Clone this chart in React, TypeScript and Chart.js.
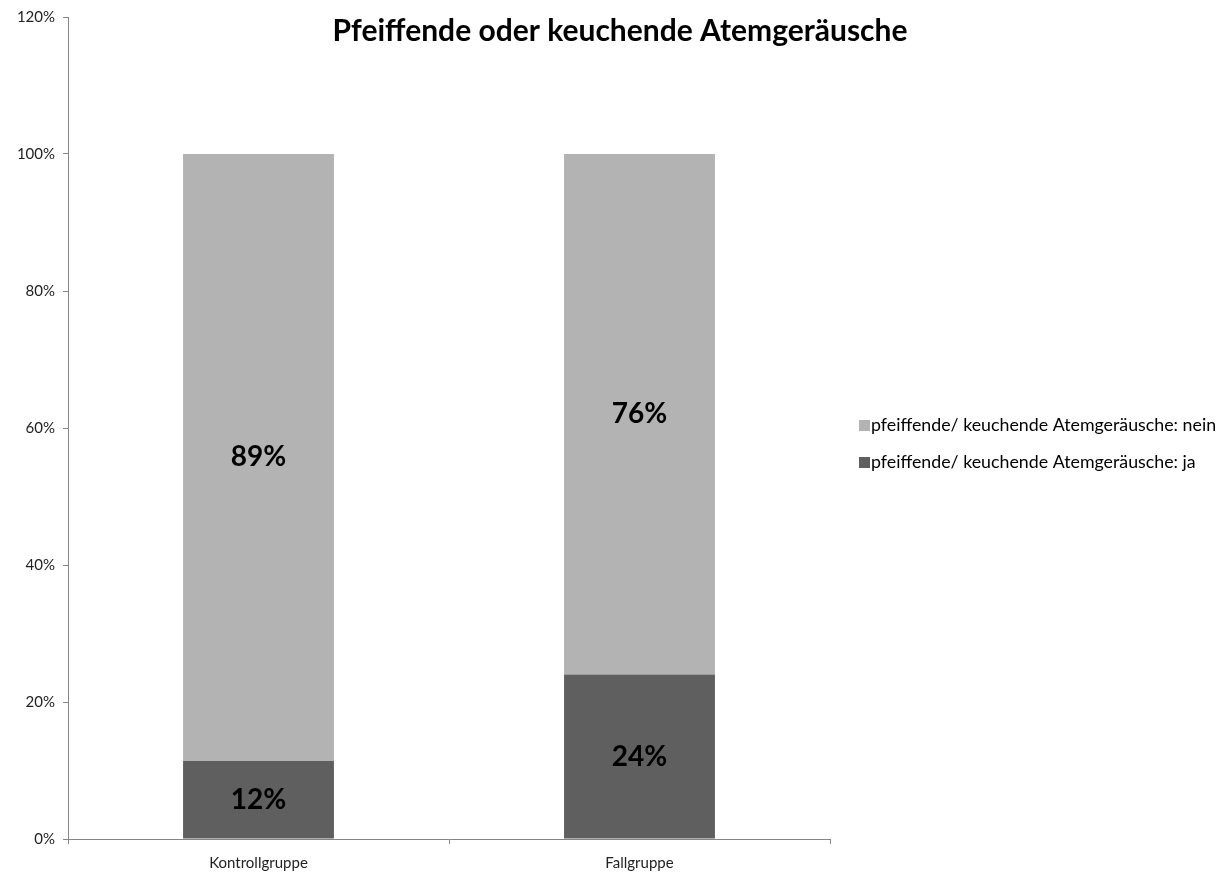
import React, { useEffect, useRef } from "react";
import { Chart, registerables } from "chart.js";

Chart.register(...registerables);

const categories = ["Kontrollgruppe", "Fallgruppe"];
const jaValues = [11.4, 24];
const neinValues = [88.6, 76];
const jaLabels = ["12%", "24%"];
const neinLabels = ["89%", "76%"];
const seriesNames = [
  "pfeiffende/ keuchende Atemgeräusche: ja",
  "pfeiffende/ keuchende Atemgeräusche: nein",
];
const titleText = "Pfeiffende oder keuchende Atemgeräusche";
const FONT = "Lato, 'Open Sans', sans-serif";

export default function App() {
  const ref = useRef<HTMLCanvasElement | null>(null);
  useEffect(() => {
    document.body.style.margin = "0";
    const canvas = ref.current!;
    const labelSets = [jaLabels, neinLabels];
    const overlay = {
      id: "overlay",
      afterDraw(chart: any) {
        const ctx = chart.ctx;
        ctx.save();
        // title
        ctx.fillStyle = "#000";
        ctx.font = `bold 30px ${FONT}`;
        ctx.textAlign = "center";
        ctx.textBaseline = "middle";
        ctx.fillText(titleText, 620, 31);
        // data labels
        ctx.font = `bold 28px ${FONT}`;
        chart.data.datasets.forEach((ds: any, di: number) => {
          const meta = chart.getDatasetMeta(di);
          meta.data.forEach((bar: any, i: number) => {
            const y = (bar.y + bar.base) / 2;
            ctx.fillText(labelSets[di][i], bar.x, y);
          });
        });
        // legend (reverse order)
        ctx.font = `17.8px ${FONT}`;
        ctx.textAlign = "left";
        const items = [...chart.data.datasets].reverse();
        items.forEach((ds: any, k: number) => {
          const y = 425 + k * 37;
          ctx.fillStyle = ds.backgroundColor;
          ctx.fillRect(859, y - 5, 11, 11);
          ctx.fillStyle = "#000";
          ctx.fillText(ds.label, 871, y);
        });
        ctx.restore();
      },
    };
    const chart = new Chart(canvas, {
      type: "bar",
      data: {
        labels: categories,
        datasets: [
          {
            label: seriesNames[0],
            data: jaValues,
            backgroundColor: "#5f5f5f",
            barPercentage: 1,
            categoryPercentage: 0.396,
          },
          {
            label: seriesNames[1],
            data: neinValues,
            backgroundColor: "#b3b3b3",
            barPercentage: 1,
            categoryPercentage: 0.396,
          },
        ],
      },
      options: {
        animation: false,
        responsive: false,
        maintainAspectRatio: false,
        layout: { padding: { left: 8, right: 398, top: 14, bottom: 0 } },
        plugins: {
          legend: { display: false },
          title: { display: false },
          tooltip: { enabled: false },
        },
        scales: {
          x: {
            stacked: true,
            afterFit(scale: any) {
              scale.height = 37;
            },
            grid: {
              drawOnChartArea: false,
              tickLength: 5,
              color: "#868686",
              offset: true,
            },
            border: { color: "#868686", width: 1 },
            ticks: {
              color: "#222",
              font: { family: FONT, size: 15 },
              padding: 10,
            },
          },
          y: {
            stacked: true,
            min: 0,
            max: 120,
            afterFit(scale: any) {
              scale.width = 60;
            },
            grid: {
              drawOnChartArea: false,
              tickLength: 5,
              color: "#868686",
            },
            border: { color: "#868686", width: 1 },
            ticks: {
              stepSize: 20,
              color: "#222",
              font: { family: FONT, size: 15 },
              padding: 8,
              callback: (v: any) => `${v}%`,
            },
          },
        },
      },
      plugins: [overlay],
    });
    return () => chart.destroy();
  }, []);
  return (
    <div style={{ width: 1228, height: 876 }}>
      <canvas ref={ref} width={1228} height={876} />
    </div>
  );
}
